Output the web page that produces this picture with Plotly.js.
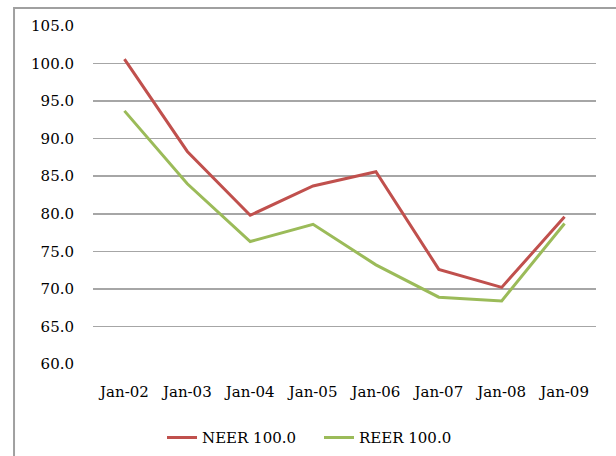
<!DOCTYPE html>
<html>
<head>
<meta charset="utf-8">
<script src="https://cdn.plot.ly/plotly-3.0.1.min.js"></script>
<style>
  html, body { margin: 0; padding: 0; background: #fff; overflow: hidden; }
  #chart { width: 616px; height: 456px; }
</style>
</head>
<body>
<div id="chart"></div>
<script>
// categories and series
const months = ['Jan-02', 'Jan-03', 'Jan-04', 'Jan-05', 'Jan-06', 'Jan-07', 'Jan-08', 'Jan-09'];
const neer = [100.6, 88.3, 79.8, 83.7, 85.6, 72.6, 70.2, 79.6];
const reer = [93.7, 84.0, 76.3, 78.6, 73.2, 68.9, 68.4, 78.7];

const serif = 'DejaVu Serif';

const traces = [
  {
    x: months,
    y: neer,
    name: 'NEER 100.0',
    type: 'scatter',
    mode: 'lines',
    line: { color: '#C0504D', width: 3 }
  },
  {
    x: months,
    y: reer,
    name: 'REER 100.0',
    type: 'scatter',
    mode: 'lines',
    line: { color: '#9BBB59', width: 3 }
  }
];

const layout = {
  width: 616,
  height: 456,
  margin: { l: 93, r: 20, t: 26, b: 92 },
  paper_bgcolor: '#fff',
  plot_bgcolor: '#fff',
  font: { family: serif, size: 15, color: '#000' },
  showlegend: true,
  legend: {
    orientation: 'h',
    xref: 'container',
    yref: 'container',
    x: 0.263,
    xanchor: 'left',
    y: 0.04,
    yanchor: 'middle',
    entrywidth: 112,
    entrywidthmode: 'pixels',
    font: { family: serif, size: 15, color: '#000' }
  },
  xaxis: {
    type: 'category',
    range: [-0.5, 7.5],
    showgrid: false,
    zeroline: false,
    showline: false,
    ticks: 'outside',
    ticklen: 14,
    tickcolor: 'rgba(0,0,0,0)'
  },
  yaxis: {
    range: [60, 105],
    dtick: 5,
    tick0: 60,
    tickformat: '.1f',
    showgrid: true,
    gridcolor: '#a6a6a6',
    gridwidth: 1.5,
    zeroline: false,
    showline: false,
    ticks: 'outside',
    ticklen: 15,
    tickcolor: 'rgba(0,0,0,0)'
  },
  shapes: [
    // outer chart border (only left and top edges are visible in the frame)
    {
      type: 'rect',
      xref: 'paper', yref: 'paper',
      x0: -0.157, x1: 1.2,
      y0: -0.5, y1: 1.053,
      line: { color: '#a0a0a0', width: 2 },
      layer: 'below'
    }
  ]
};

Plotly.newPlot('chart', traces, layout, { displayModeBar: false, staticPlot: true });
</script>
</body>
</html>
